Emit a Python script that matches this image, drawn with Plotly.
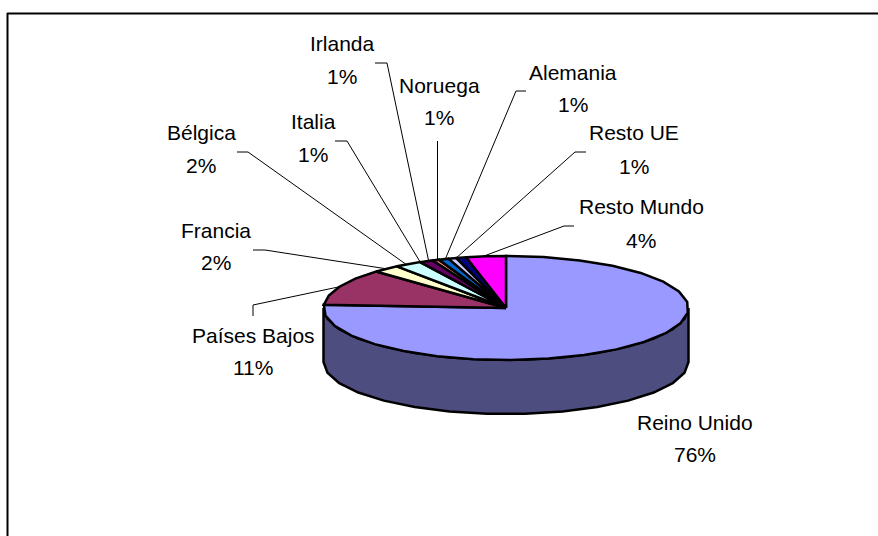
import numpy as np
import plotly.graph_objects as go

# ---- data (share of total, %) ----
categories = ["Reino Unido", "Países Bajos", "Francia", "Bélgica", "Italia",
              "Irlanda", "Noruega", "Alemania", "Resto UE", "Resto Mundo"]
values = [76.0, 11.4, 2.4, 2.4, 1.2, 0.6, 0.9, 0.7, 0.9, 3.5]

# ---- styles ----
top_colors = ["#9999FF", "#993366", "#FFFFCC", "#CCFFFF", "#660066",
              "#FF8080", "#0066CC", "#CCCCFF", "#000080", "#FF00FF"]
wall_colors = ["#4D4D80", "#4D1A33", "#808066", "#668080", "#330033",
               "#804040", "#003366", "#666680", "#000040", "#800080"]

# ---- layout (pixels in the 878x536 picture) ----
W, H = 878, 536
CX, CY, RX, RY, DEPTH = 506, 308, 182.5, 52, 54
FACET = 12  # degrees per outline segment
FONT = dict(family="Liberation Sans, Arial, sans-serif", size=21, color="#000000")

# name x, name y, percent y for each label
label_x = [695, 253, 216, 201, 313, 342, 439, 573, 634, 641]
name_y = [423, 336, 231, 133, 122, 44, 86, 73, 133, 207]
pct_y = [455, 368, 263, 166, 155, 77, 118, 105, 167, 241]
# leader-line elbows: outer end, elbow (None = no line)
leader_outer = [None, (253, 316), (253, 250), (237, 152), (335, 141),
                (375, 63), (437.5, 141), (526, 91), (586, 152), (574, 226)]
leader_elbow = [None, (253, 305), (265, 250), (248, 152), (347, 141),
                (387, 63), (437.5, 141), (516, 91), (575, 152), (564, 226)]
# horizontal nudge (px) of where each leader meets the rim, relative to the slice middle
leader_shift = [0, 0, 0, -2, -6, -7, -6.1, -7, -5, -3]


def px(t):
    return CX + RX * np.sin(np.radians(t))


def py(t):
    return CY - RY * np.cos(np.radians(t))


def arc(a, b):
    n = max(1, int(np.ceil((b - a) / FACET)))
    return np.linspace(a, b, n + 1)


fig = go.Figure()
edges = np.concatenate([[0], np.cumsum(values)]) * 360.0 / sum(values)

# side walls: only the front half of the disc is visible
for i, c in enumerate(categories):
    a, b = max(edges[i], 90), min(edges[i + 1], 270)
    if b <= a:
        continue
    t = arc(a, b)
    xs = np.concatenate([px(t), px(t[::-1])])
    ys = np.concatenate([py(t), py(t[::-1]) + DEPTH])
    fig.add_trace(go.Scatter(x=np.append(xs, xs[0]), y=np.append(ys, ys[0]), mode="lines",
                             fill="toself", fillcolor=wall_colors[i],
                             line=dict(color="#000000", width=2.5), hoverinfo="skip"))

# top faces
for i, c in enumerate(categories):
    t = arc(edges[i], edges[i + 1])
    xs = np.concatenate([[CX], px(t), [CX]])
    ys = np.concatenate([[CY], py(t), [CY]])
    fig.add_trace(go.Scatter(x=xs, y=ys, mode="lines", name=c,
                             fill="toself", fillcolor=top_colors[i],
                             line=dict(color="#000000", width=2.5), hoverinfo="skip"))

# leader lines, from each slice's rim to the label
for i, c in enumerate(categories):
    if leader_outer[i] is None:
        continue
    mid = (edges[i] + edges[i + 1]) / 2
    tip_x = px(mid) + leader_shift[i]
    tip_y = CY - RY * np.sqrt(1 - ((tip_x - CX) / RX) ** 2)
    fig.add_trace(go.Scatter(x=[leader_outer[i][0], leader_elbow[i][0], tip_x],
                             y=[leader_outer[i][1], leader_elbow[i][1], tip_y],
                             mode="lines", line=dict(color="#000000", width=1),
                             hoverinfo="skip"))

# labels
annotations = []
for i, c in enumerate(categories):
    annotations.append(dict(x=label_x[i], y=name_y[i], yshift=1, text=c, showarrow=False,
                            xanchor="center", yanchor="middle", font=FONT))
    annotations.append(dict(x=label_x[i], y=pct_y[i], yshift=1, text=f"{round(values[i])}%", showarrow=False,
                            xanchor="center", yanchor="middle", font=FONT))

# chart frame (only the top and left edges fall inside the picture)
shapes = [
    dict(type="line", x0=7.5, x1=7.5, y0=13, y1=H, line=dict(color="#000000", width=2)),
    dict(type="line", x0=7, x1=W, y0=13.5, y1=13.5, line=dict(color="#000000", width=2)),
]

fig.update_layout(
    width=W, height=H, autosize=False,
    margin=dict(l=0, r=0, t=0, b=0),
    paper_bgcolor="#FFFFFF", plot_bgcolor="#FFFFFF",
    showlegend=False,
    xaxis=dict(range=[0, W], visible=False, fixedrange=True),
    yaxis=dict(range=[H, 0], visible=False, fixedrange=True),
    annotations=annotations, shapes=shapes,
)
fig.write_html("out.html", config={"displayModeBar": False},
               post_script="document.body.style.margin='0';document.documentElement.style.overflow='hidden';")
